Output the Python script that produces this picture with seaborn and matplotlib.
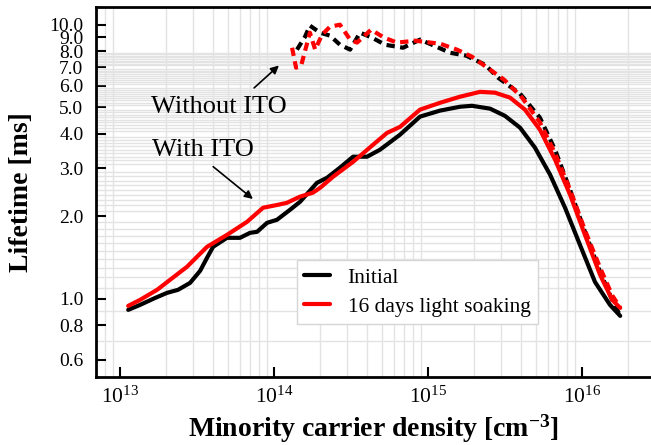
import numpy as np
import pandas as pd
import matplotlib
matplotlib.use("Agg")
import matplotlib.pyplot as plt
from matplotlib.lines import Line2D
from matplotlib.ticker import FixedLocator, LogLocator, NullFormatter, FormatStrFormatter
import seaborn as sns

# ---- measured lifetime curves (density in cm^-3, lifetime in ms) ----
# With ITO, initial
n_ito_initial = [1.13e13, 1.35e13, 1.69e13, 2.02e13, 2.38e13, 2.85e13, 3.31e13, 3.67e13,
                 4.02e13, 4.95e13, 6.01e13, 6.98e13, 7.76e13, 9.01e13, 1.045e14, 1.27e14,
                 1.476e14, 1.90e14, 2.21e14, 2.68e14, 3.26e14, 4.02e14, 4.88e14, 6.58e14,
                 8.87e14, 1.197e15, 1.61e15, 1.93e15, 2.53e15, 3.16e15, 3.96e15, 4.95e15,
                 6.20e15, 7.76e15, 9.70e15, 1.214e16, 1.52e16, 1.77e16]
tau_ito_initial = [0.912, 0.951, 1.008, 1.052, 1.079, 1.144, 1.265, 1.411,
                   1.548, 1.670, 1.670, 1.741, 1.756, 1.894, 1.943, 2.113,
                   2.26, 2.65, 2.765, 3.01, 3.30, 3.30, 3.50, 3.97,
                   4.62, 4.86, 5.02, 5.06, 4.94, 4.65, 4.21, 3.56,
                   2.84, 2.15, 1.574, 1.153, 0.951, 0.867]

# With ITO, after 16 days light soaking
n_ito_soaked = [1.13e13, 1.35e13, 1.74e13, 2.11e13, 2.72e13, 3.67e13, 4.95e13, 6.68e13,
                8.49e13, 1.045e14, 1.21e14, 1.476e14, 1.79e14, 1.99e14, 2.42e14, 3.26e14,
                4.40e14, 5.42e14, 6.58e14, 8.87e14, 1.197e15, 1.61e15, 2.18e15, 2.72e15,
                3.41e15, 4.26e15, 5.33e15, 6.68e15, 8.36e15, 1.045e16, 1.31e16, 1.57e16,
                1.77e16]
tau_ito_soaked = [0.943, 0.992, 1.079, 1.173, 1.309, 1.548, 1.712, 1.91,
                  2.15, 2.20, 2.24, 2.36, 2.44, 2.54, 2.79, 3.16,
                  3.65, 4.03, 4.24, 4.90, 5.19, 5.46, 5.69, 5.65,
                  5.42, 4.90, 4.14, 3.22, 2.40, 1.712, 1.224, 0.992,
                  0.927]

# Without ITO, initial
n_bare_initial = [1.41e14, 1.59e14, 1.71e14, 1.99e14, 2.31e14, 2.68e14, 3.12e14, 3.62e14,
                  4.33e14, 5.26e14, 6.89e14, 8.87e14, 1.06e15, 1.39e15, 1.77e15, 2.35e15,
                  2.85e15, 3.96e15, 5.33e15, 6.68e15, 8.36e15, 1.045e16, 1.31e16, 1.57e16,
                  1.77e16]
tau_bare_initial = [8.11, 9.04, 9.92, 9.35, 9.12, 8.45, 8.11, 9.35,
                    8.97, 8.45, 8.24, 8.82, 8.45, 7.90, 7.71, 7.14,
                    6.41, 5.60, 4.58, 3.50, 2.50, 1.756, 1.254, 0.992,
                    0.867]

# Without ITO, after 16 days light soaking
n_bare_soaked = [1.31e14, 1.39e14, 1.50e14, 1.71e14, 1.85e14, 2.05e14, 2.31e14, 2.68e14,
                 3.12e14, 3.46e14, 4.27e14, 5.18e14, 6.29e14, 8.24e14, 1.20e15, 1.54e15,
                 1.93e15, 3.12e15, 4.08e15, 5.33e15, 6.68e15, 8.36e15, 1.045e16, 1.31e16,
                 1.57e16, 1.77e16]
tau_bare_soaked = [8.24, 6.97, 7.09, 9.35, 8.11, 9.19, 9.83, 10.0,
                   8.82, 8.6, 9.59, 8.97, 8.6, 8.74, 8.52, 8.11,
                   7.64, 6.30, 5.42, 4.40, 3.40, 2.50, 1.78, 1.30,
                   1.03, 0.93]

series_labels = ["Initial", "16 days light soaking"]
series_colors = ["#000000", "#ff0000"]
y_tick_values = [0.6, 0.8, 1.0, 2.0, 3.0, 4.0, 5.0, 6.0, 7.0, 8.0, 9.0, 10.0]
y_grid_values = list(np.round(np.arange(0.5, 8.01, 0.1), 2))

sns.set_style("white")
plt.rcParams["font.family"] = ["Liberation Serif", "DejaVu Serif"]
plt.rcParams.update({
    "mathtext.fontset": "custom",
    "mathtext.rm": "Liberation Serif",
    "mathtext.it": "Liberation Serif:italic",
    "mathtext.bf": "Liberation Serif:bold",
    "text.color": "black",
    "axes.labelcolor": "black",
    "xtick.color": "black",
    "ytick.color": "black",
})

fig = plt.figure(figsize=(6.51, 4.45), dpi=100)
ax = fig.add_axes([96 / 651, 68 / 445, 555 / 651, 370 / 445])

lw = 3.0
dash = (0, (2.0, 1.3))
curves = [
    (n_bare_initial, tau_bare_initial, series_colors[0], dash),
    (n_bare_soaked, tau_bare_soaked, series_colors[1], dash),
    (n_ito_initial, tau_ito_initial, series_colors[0], "-"),
    (n_ito_soaked, tau_ito_soaked, series_colors[1], "-"),
]
for xs, ys, col, ls in curves:
    df = pd.DataFrame({"density": xs, "lifetime": ys})
    sns.lineplot(data=df, x="density", y="lifetime", color=col, linewidth=lw,
                 linestyle=ls, estimator=None, sort=False, ax=ax, legend=False)

ax.set_xscale("log")
ax.set_yscale("log")
ax.set_xlim(10 ** 12.844, 10 ** 16.448)
ax.set_ylim(0.519, 11.6)

# ticks and grid
ax.xaxis.set_major_locator(LogLocator(base=10, numticks=10))
ax.xaxis.set_minor_locator(LogLocator(base=10, subs=np.arange(2, 10), numticks=50))
ax.xaxis.set_minor_formatter(NullFormatter())
ax.yaxis.set_major_locator(FixedLocator(y_tick_values))
ax.yaxis.set_major_formatter(FormatStrFormatter("%.1f"))
ax.yaxis.set_minor_locator(FixedLocator(y_grid_values))
ax.yaxis.set_minor_formatter(NullFormatter())

ax.grid(False, which="major")
ax.grid(True, which="minor", color="#e3e3e3", linewidth=1.0)
ax.set_axisbelow(True)

ax.tick_params(which="major", direction="in", length=7.5, width=1.5,
               labelsize=14, top=False, right=False, left=True, bottom=True)
ax.tick_params(axis="y", which="major", pad=9)
ax.tick_params(axis="x", which="major", pad=7, labelsize=15.5)
ax.tick_params(which="minor", length=0)

for side in ["left", "bottom", "top"]:
    ax.spines[side].set_visible(True)
    ax.spines[side].set_linewidth(2.0)
    ax.spines[side].set_color("black")
ax.spines["right"].set_visible(False)

ax.set_xlabel(r"Minority carrier density [cm$^{\mathbf{-3}}$]",
              fontsize=20, fontweight="bold", labelpad=3)
ax.set_ylabel("Lifetime [ms]", fontsize=20, fontweight="bold", labelpad=11)

# annotations
ax.text(1.59e13, 4.77, "Without ITO", fontsize=19, ha="left", va="baseline")
ax.text(1.61e13, 3.33, "With ITO", fontsize=19, ha="left", va="baseline")
arrow = dict(arrowstyle="-|>", color="black", lw=1.2, mutation_scale=12)
ax.annotate("", xy=(1.11e14, 7.21), xytext=(7.2e13, 5.79), arrowprops=arrow)
ax.annotate("", xy=(7.53e13, 2.28), xytext=(3.90e13, 3.08), arrowprops=arrow)

handles = [Line2D([], [], color=c, lw=lw) for c in series_colors]
leg = ax.legend(handles, series_labels, loc="lower left",
                bbox_to_anchor=(0.362, 0.143), fontsize=15.5, frameon=True,
                fancybox=False, framealpha=1.0, edgecolor="#d6d6d6",
                handlelength=1.2, handletextpad=0.8, borderpad=0.35,
                labelspacing=0.4, borderaxespad=0)
leg.get_frame().set_linewidth(1.0)

fig.savefig("out.png", dpi=100)
